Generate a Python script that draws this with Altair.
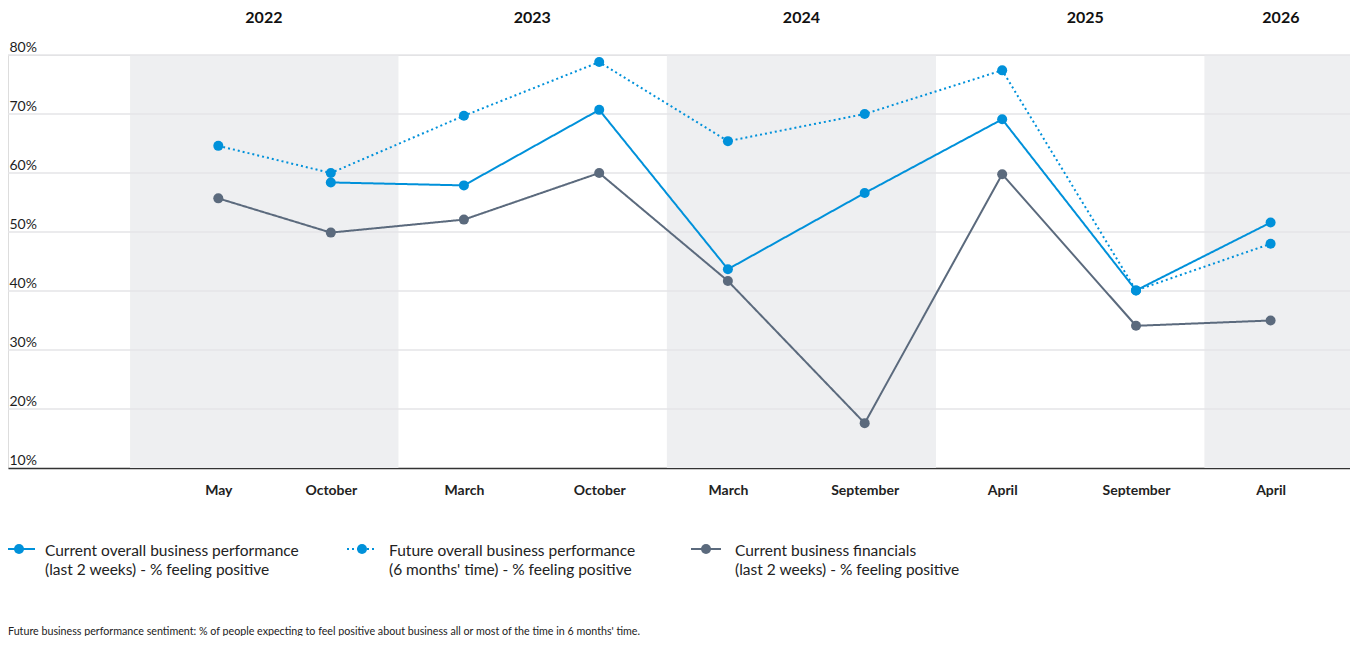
import altair as alt
import pandas as pd

# ---------------- data ----------------
wave_dates = ["2022-05-01", "2022-10-01", "2023-03-31", "2023-10-01", "2024-03-24",
              "2024-09-26", "2025-04-01", "2025-09-30", "2026-04-01"]
current_perf = [None, 58.4, 57.9, 70.7, 43.7, 56.6, 69.1, 40.1, 51.6]
future_perf = [64.6, 60.0, 69.7, 78.8, 65.4, 70.0, 77.4, 40.1, 48.0]
current_fin = [55.7, 49.9, 52.1, 60.0, 41.7, 17.6, 59.8, 34.1, 35.0]

series_keys = ["financials", "future", "current"]
series_values = {"current": current_perf, "future": future_perf, "financials": current_fin}

legend_keys = ["current", "future", "financials"]
legend_line1 = ["Current overall business performance",
                "Future overall business performance",
                "Current business financials"]
legend_line2 = ["(last 2 weeks) - % feeling positive",
                "(6 months' time) - % feeling positive",
                "(last 2 weeks) - % feeling positive"]

years = ["2022", "2023", "2024", "2025", "2026"]
year_label_dates = ["2022-07-02", "2023-07-02", "2024-07-02", "2025-07-23", "2026-04-15"]
shaded_years = [2022, 2024, 2026]
y_ticks = [10, 20, 30, 40, 50, 60, 70, 80]
footnote = ("Future business performance sentiment: % of people expecting to feel positive "
            "about business all or most of the time in 6 months' time.")

# ---------------- styles ----------------
FONT = "Lato"
BLUE = "#0091da"
GREY = "#5b6a7d"
colors = {"current": BLUE, "future": BLUE, "financials": GREY}
dashes = {"current": [1, 0], "future": [2, 3], "financials": [1, 0]}
W, H = 1342, 413
domain_start = (2021, 7, 19)
domain_end = (2026, 7, 18)


def iso(d):
    return d + "T00:00:00"


def dt(s):
    y, m, d = [int(p) for p in s.split("-")]
    return alt.DateTime(year=y, month=m, date=d)


x_scale = alt.Scale(domain=[alt.DateTime(year=domain_start[0], month=domain_start[1], date=domain_start[2]),
                            alt.DateTime(year=domain_end[0], month=domain_end[1], date=domain_end[2])])
y_scale = alt.Scale(domain=[10, 80], nice=False, zero=False)

x_axis = alt.Axis(values=[dt(d) for d in wave_dates], format="%B", title=None,
                  labelFont=FONT, labelFontSize=14, labelFontWeight="bold", labelColor="#222222",
                  labelPadding=15, ticks=False, tickSize=0, grid=False,
                  domainColor="#333333", domainWidth=1.6, labelFlush=False, labelOverlap=False)
y_axis = alt.Axis(values=y_ticks, labelExpr="datum.value + '%'", title=None,
                  labelFont=FONT, labelFontSize=14, labelColor="#1e1e1e",
                  labelAlign="left", labelBaseline="alphabetic", labelOffset=-4,
                  labelPadding=-1, ticks=False, tickSize=0, domain=False, grid=False)

# ---------------- tables ----------------
rows = []
for key in series_keys:
    for d, v in zip(wave_dates, series_values[key]):
        if v is not None:
            rows.append({"date": iso(d), "value": v, "series": key})
df = pd.DataFrame(rows)

bands = pd.DataFrame({
    "start": [iso(f"{y}-01-01") for y in shaded_years],
    "end": [iso(f"{y + 1}-01-01") for y in shaded_years],
})

year_df = pd.DataFrame({"mid": [iso(d) for d in year_label_dates], "label": years})

grid_df = pd.DataFrame({"tick": y_ticks[1:]})
axis_df = pd.DataFrame({"tick": y_ticks})

# ---------------- layers ----------------
band_layer = alt.Chart(bands).mark_rect(color="#eeeff1", clip=True).encode(
    x=alt.X("start:T", scale=x_scale, axis=x_axis),
    x2="end:T",
    y=alt.value(0),
    y2=alt.value(H),
)

grid_layer = alt.Chart(grid_df).mark_rule(color="#e4e5e7", strokeWidth=1.5).encode(
    y=alt.Y("tick:Q", scale=y_scale, axis=y_axis),
)

axis_text_layer = alt.Chart(axis_df).mark_rule(opacity=0).encode(
    y=alt.Y("tick:Q", scale=y_scale, axis=y_axis),
)

year_layer = alt.Chart(year_df).mark_text(font=FONT, fontSize=16, fontWeight="bold",
                                          color="#111111", baseline="middle", align="center").encode(
    x=alt.X("mid:T", scale=x_scale, axis=x_axis),
    y=alt.value(-37),
    text="label:N",
)

series_layers = []
for key in series_keys:
    base = alt.Chart(df).transform_filter(alt.datum.series == key)
    enc = dict(x=alt.X("date:T", scale=x_scale, axis=x_axis),
               y=alt.Y("value:Q", scale=y_scale, axis=y_axis))
    series_layers.append(base.mark_line(color=colors[key], strokeWidth=2,
                                        strokeDash=dashes[key]).encode(**enc))
    series_layers.append(base.mark_point(filled=True, color=colors[key], size=100,
                                         opacity=1).encode(**enc))

# manual legend
one = pd.DataFrame({"a": [0]})
legend_sym_x0 = [0, 339, 683]
legend_sym_x1 = [27, 366, 713]
legend_dot_x = [11, 354, 698]
legend_text_x = [37, 381, 727]
legend_y = 494
legend_layers = []
for i, key in enumerate(legend_keys):
    legend_layers.append(alt.Chart(one).mark_rule(color=colors[key], strokeWidth=2,
                                                  strokeDash=dashes[key]).encode(
        x=alt.value(legend_sym_x0[i]), x2=alt.value(legend_sym_x1[i]), y=alt.value(legend_y)))
    legend_layers.append(alt.Chart(one).mark_point(filled=True, color=colors[key], size=100,
                                                   opacity=1).encode(
        x=alt.value(legend_dot_x[i]), y=alt.value(legend_y)))
    legend_layers.append(alt.Chart(one).mark_text(font=FONT, fontSize=15.5, color="#222222",
                                                  align="left", baseline="alphabetic",
                                                  lineBreak="\n", lineHeight=18.5).encode(
        x=alt.value(legend_text_x[i]), y=alt.value(legend_y + 7),
        text=alt.value(legend_line1[i] + "\n" + legend_line2[i])))

foot_layer = alt.Chart(one).mark_text(font=FONT, fontSize=10.7, color="#222222",
                                      align="left", baseline="alphabetic").encode(
    x=alt.value(0), y=alt.value(580), text=alt.value(footnote))

chart = alt.layer(band_layer, grid_layer, axis_text_layer, year_layer, *series_layers,
                  *legend_layers, foot_layer).properties(
    width=W, height=H,
    autosize=alt.AutoSizeParams(type="none"),
    padding={"left": 0, "top": 47, "right": 0, "bottom": 168},
    background="white",
).configure_view(stroke=None).configure(font=FONT)

chart.save("out.html", embed_options={"renderer": "svg", "actions": False})
